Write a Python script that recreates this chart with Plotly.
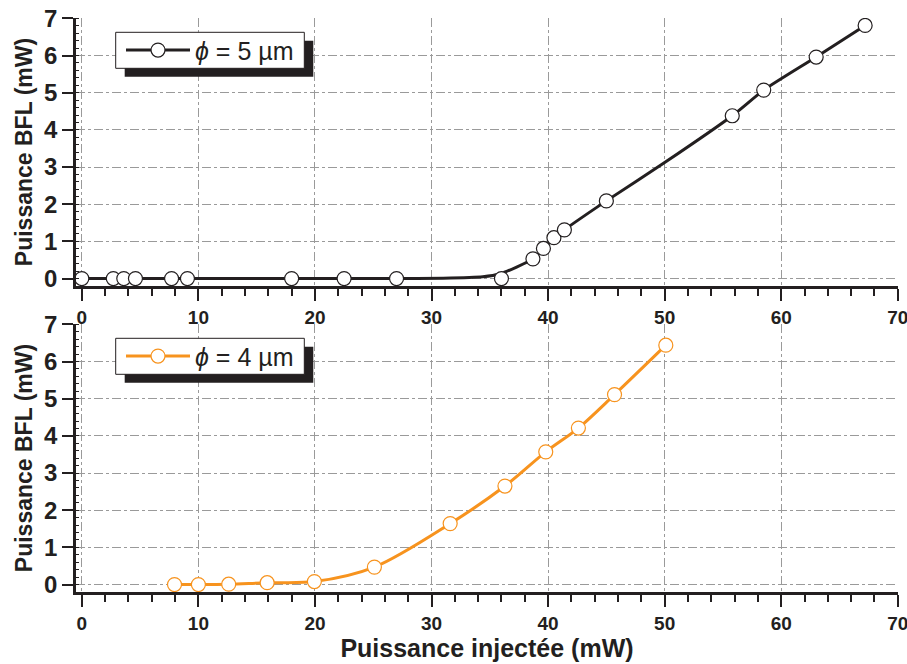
import plotly.graph_objects as go

# ---------------- data ----------------
# phi = 5 um (top panel) : measured points
p5_x = [0, 2.7, 3.6, 4.6, 7.7, 9.06, 18.0, 22.5, 27.0, 36.0, 38.7, 39.6, 40.5, 41.4, 45.0, 55.8, 58.5, 63.0, 67.2]
p5_y = [0, 0, 0, 0, 0, 0, 0, 0, 0, 0, 0.53, 0.81, 1.10, 1.31, 2.09, 4.38, 5.07, 5.96, 6.81]
# phi = 5 um : fitted curve
fit5_x = [0, 27.0, 31.0, 34.4, 35.9, 37.3, 38.7, 39.6, 40.5, 41.3, 45.0, 50.0, 55.8, 58.5, 63.0, 67.2]
fit5_y = [0, 0, 0.01, 0.05, 0.13, 0.31, 0.53, 0.80, 1.10, 1.29, 2.09, 3.12, 4.38, 5.07, 5.96, 6.81]

# phi = 4 um (bottom panel)
p4_x = [7.95, 10.0, 12.6, 15.9, 19.95, 25.1, 31.6, 36.3, 39.8, 42.6, 45.7, 50.1]
p4_y = [0, 0, 0.01, 0.05, 0.08, 0.47, 1.64, 2.65, 3.57, 4.21, 5.11, 6.44]

x_ticks = [0, 10, 20, 30, 40, 50, 60, 70]
y_ticks = [0, 1, 2, 3, 4, 5, 6, 7]

ORANGE = "#F7931E"
INK = "#231F20"
GRID = "#9a9a9a"
FAM = "Liberation Sans, Arial"

W, H = 907, 664
ML, MR, MT, MB = 76, 9, 18, 72
PW, PH = W - ML - MR, H - MT - MB
TOP_BOT_PX, BOT_TOP_PX = 286, 324


def px_x(p):
    return (p - ML) / PW


def px_y(p):
    return (H - MB - p) / PH


top_dom = [px_y(TOP_BOT_PX), 1]
bot_dom = [0, px_y(BOT_TOP_PX)]

fig = go.Figure()

fig.add_trace(go.Scatter(x=fit5_x, y=fit5_y, mode="lines", line=dict(color=INK, width=3, shape="spline", smoothing=0.6),
                         showlegend=False, hoverinfo="skip", xaxis="x", yaxis="y"))
fig.add_trace(go.Scatter(x=p5_x, y=p5_y, mode="markers",
                         marker=dict(size=14, color="white", line=dict(color=INK, width=1.2)),
                         showlegend=False, xaxis="x", yaxis="y"))
fig.add_trace(go.Scatter(x=[None], y=[None], mode="lines+markers", name="<i>ϕ</i> = 5 µm",
                         line=dict(color=INK, width=3),
                         marker=dict(size=14, color="white", line=dict(color=INK, width=1.2)),
                         legend="legend", xaxis="x", yaxis="y"))

fig.add_trace(go.Scatter(x=p4_x, y=p4_y, mode="lines+markers", name="<i>ϕ</i> = 4 µm",
                         line=dict(color=ORANGE, width=3, shape="spline", smoothing=0.9),
                         marker=dict(size=14, color="white", line=dict(color=ORANGE, width=1.2)),
                         legend="legend2", xaxis="x3", yaxis="y3"))

tickfont_x = dict(family=FAM, size=19, color=INK, weight="bold")
tickfont_y = dict(family=FAM, size=24, color=INK, weight="bold")
titlefont = dict(family=FAM, size=23, color=INK, weight="bold")

xrange_ = [-0.5, 70.02]
yrange_ = [-0.2, 7.01]


def xbase(anchor, title=None):
    d = dict(domain=[0, 1], anchor=anchor, range=xrange_, tickvals=x_ticks, ticks="outside", ticklen=12,
             tickwidth=2, tickcolor=INK, showline=True, linewidth=2.5, linecolor=INK,
             showgrid=True, gridcolor=GRID, griddash="dashdot", gridwidth=1, zeroline=False,
             tickfont=tickfont_x, ticklabeloverflow="allow",
             minor=dict(dtick=2, ticks="outside", ticklen=7, tickwidth=2, tickcolor=INK, showgrid=False))
    if title:
        d["title"] = dict(text=title, font=dict(family=FAM, size=25, color=INK, weight="bold"), standoff=6)
    return d


def xtop(over, anchor):
    return dict(overlaying=over, anchor=anchor, side="top", range=xrange_, tickvals=x_ticks, ticks="inside",
                ticklen=14, tickwidth=2, tickcolor=INK, showline=True, linewidth=2.5, linecolor=INK,
                showgrid=False, zeroline=False, showticklabels=False,
                minor=dict(dtick=2, ticks="inside", ticklen=7, tickwidth=2, tickcolor=INK, showgrid=False))


def ybase(dom, anchor):
    return dict(domain=dom, anchor=anchor, range=yrange_, tickvals=y_ticks, ticks="outside", ticklen=11,
                tickwidth=2, tickcolor=INK, showline=True, linewidth=2.5, linecolor=INK,
                showgrid=True, gridcolor=GRID, griddash="dashdot", gridwidth=1, zeroline=False,
                tickfont=tickfont_y, ticklabeloverflow="allow",
                title=dict(text="Puissance BFL (mW)", font=titlefont, standoff=6),
                minor=dict(dtick=0.2, ticks="inside", ticklen=3, tickwidth=1, tickcolor=INK, showgrid=False))


def yright(over, anchor):
    return dict(overlaying=over, anchor=anchor, side="right", range=yrange_, tickvals=y_ticks, ticks="inside",
                ticklen=11, tickwidth=2, tickcolor=INK, showline=True, linewidth=2.5, linecolor=INK,
                showgrid=False, zeroline=False, showticklabels=False,
                minor=dict(dtick=0.2, ticks="outside", ticklen=3, tickwidth=1, tickcolor=INK, showgrid=False))


shapes = []
for top_px in (32.3, 338.3):
    x0, x1 = 115.7, 304.3
    y0, y1 = top_px, top_px + 36
    shapes.append(dict(type="rect", xref="paper", yref="paper", layer="above",
                       x0=px_x(x0 + 9), x1=px_x(x1 + 9), y0=px_y(y1 + 8.5), y1=px_y(y0 + 8.5),
                       fillcolor=INK, line=dict(width=0)))
    shapes.append(dict(type="rect", xref="paper", yref="paper", layer="above",
                       x0=px_x(x0), x1=px_x(x1), y0=px_y(y1), y1=px_y(y0),
                       fillcolor="white", line=dict(color=INK, width=1)))

legfont = dict(family=FAM, size=25, color=INK)
leg_common = dict(bgcolor="rgba(0,0,0,0)", borderwidth=0, font=legfont, itemwidth=64,
                  xanchor="left", yanchor="middle", tracegroupgap=0)

fig.update_layout(
    width=W, height=H,
    margin=dict(l=ML, r=MR, t=MT, b=MB, autoexpand=False),
    paper_bgcolor="white", plot_bgcolor="white",
    font=dict(family=FAM, color=INK),
    xaxis=xbase("y"),
    xaxis2=xtop("x", "y"),
    yaxis=ybase(top_dom, "x"),
    yaxis2=yright("y", "x"),
    xaxis3=xbase("y3", "Puissance injectée (mW)"),
    xaxis4=xtop("x3", "y3"),
    yaxis3=ybase(bot_dom, "x3"),
    yaxis4=yright("y3", "x3"),
    shapes=shapes,
    legend=dict(x=px_x(121), y=px_y(32.3 + 18), **leg_common),
    legend2=dict(x=px_x(121), y=px_y(338.3 + 18), **leg_common),
)

fig.write_html("out.html", config={"displayModeBar": False},
               post_script="document.body.style.margin='0';document.body.style.overflow='hidden';")
